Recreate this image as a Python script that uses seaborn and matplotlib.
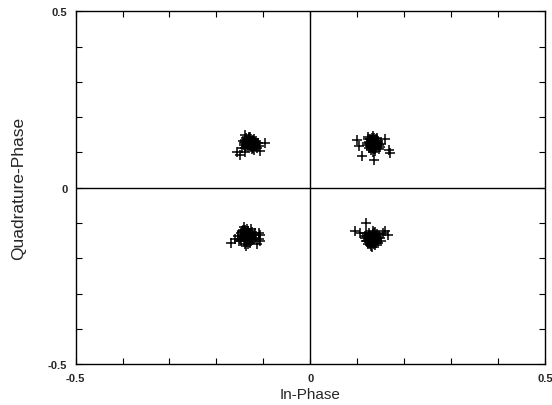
import matplotlib
matplotlib.use("Agg")
import matplotlib.pyplot as plt
import seaborn as sns
import pandas as pd
from matplotlib.ticker import MultipleLocator, FixedLocator

# Upper-left cluster
ul_x = [-0.128, -0.132, -0.124, -0.138, -0.120, -0.130, -0.126, -0.135, -0.118, -0.131,
        -0.122, -0.140, -0.127, -0.115, -0.136, -0.121, -0.133, -0.125, -0.129, -0.117,
        -0.137, -0.123, -0.113, -0.130, -0.142, -0.126, -0.119, -0.134, -0.110, -0.124,
        -0.141, -0.116, -0.128, -0.133, -0.121, -0.139, -0.112, -0.126, -0.144, -0.119,
        -0.140, -0.096, -0.155, -0.150, -0.139, -0.108, -0.145]
ul_y = [0.128, 0.134, 0.122, 0.130, 0.131, 0.120, 0.138, 0.124, 0.125, 0.141,
        0.135, 0.136, 0.116, 0.120, 0.118, 0.113, 0.127, 0.131, 0.124, 0.129,
        0.140, 0.119, 0.114, 0.145, 0.127, 0.126, 0.137, 0.133, 0.118, 0.110,
        0.121, 0.133, 0.143, 0.115, 0.124, 0.112, 0.126, 0.119, 0.133, 0.108,
        0.150, 0.127, 0.100, 0.092, 0.102, 0.105, 0.112]

# Upper-right cluster
ur_x = [0.134, 0.130, 0.138, 0.126, 0.142, 0.132, 0.136, 0.128, 0.145, 0.131,
        0.140, 0.124, 0.137, 0.133, 0.146, 0.129, 0.135, 0.141, 0.127, 0.139,
        0.133, 0.122, 0.144, 0.130, 0.136, 0.125, 0.148, 0.132, 0.138, 0.128,
        0.121, 0.143, 0.135, 0.127, 0.150, 0.131, 0.139, 0.124, 0.147, 0.134,
        0.100, 0.104, 0.160, 0.168, 0.111, 0.136, 0.171]
ur_y = [0.128, 0.134, 0.122, 0.131, 0.126, 0.119, 0.140, 0.124, 0.133, 0.142,
        0.117, 0.137, 0.131, 0.113, 0.121, 0.116, 0.125, 0.138, 0.127, 0.111,
        0.146, 0.120, 0.128, 0.108, 0.134, 0.112, 0.115, 0.129, 0.105, 0.139,
        0.128, 0.141, 0.110, 0.118, 0.125, 0.135, 0.122, 0.143, 0.110, 0.102,
        0.134, 0.119, 0.137, 0.108, 0.091, 0.080, 0.099]

# Lower-left cluster
ll_x = [-0.136, -0.140, -0.131, -0.145, -0.128, -0.138, -0.133, -0.148, -0.125, -0.142,
        -0.130, -0.150, -0.135, -0.127, -0.143, -0.120, -0.139, -0.132, -0.146, -0.124,
        -0.137, -0.153, -0.129, -0.141, -0.134, -0.118, -0.147, -0.126, -0.137, -0.131,
        -0.144, -0.122, -0.135, -0.151, -0.129, -0.140, -0.117, -0.133, -0.146, -0.125,
        -0.110, -0.106, -0.110, -0.106, -0.113, -0.168, -0.160]
ll_y = [-0.136, -0.130, -0.142, -0.138, -0.129, -0.148, -0.122, -0.127, -0.140, -0.152,
        -0.133, -0.144, -0.117, -0.150, -0.120, -0.134, -0.158, -0.127, -0.133, -0.125,
        -0.143, -0.136, -0.155, -0.112, -0.146, -0.128, -0.150, -0.118, -0.165, -0.138,
        -0.124, -0.146, -0.131, -0.152, -0.139, -0.119, -0.141, -0.160, -0.122, -0.134,
        -0.128, -0.135, -0.145, -0.152, -0.160, -0.156, -0.145]

# Lower-right cluster
lr_x = [0.132, 0.128, 0.136, 0.124, 0.140, 0.130, 0.134, 0.120, 0.143, 0.127,
        0.138, 0.118, 0.135, 0.145, 0.125, 0.131, 0.141, 0.122, 0.137, 0.129,
        0.147, 0.116, 0.133, 0.126, 0.139, 0.150, 0.123, 0.134, 0.119, 0.142,
        0.128, 0.144, 0.121, 0.136, 0.148, 0.131, 0.126, 0.139, 0.117, 0.133,
        0.119, 0.096, 0.107, 0.160, 0.165, 0.155]
lr_y = [-0.142, -0.136, -0.148, -0.145, -0.138, -0.153, -0.130, -0.139, -0.149, -0.158,
        -0.125, -0.150, -0.160, -0.142, -0.129, -0.147, -0.156, -0.133, -0.139, -0.165,
        -0.134, -0.143, -0.121, -0.150, -0.163, -0.150, -0.160, -0.135, -0.128, -0.131,
        -0.144, -0.157, -0.152, -0.127, -0.141, -0.168, -0.133, -0.146, -0.137, -0.154,
        -0.099, -0.122, -0.128, -0.122, -0.134, -0.127]

tick_vals = [-0.5, 0, 0.5]
tick_labels = ["-0.5", "0", "0.5"]

df = pd.DataFrame({
    "I": ul_x + ur_x + ll_x + lr_x,
    "Q": ul_y + ur_y + ll_y + lr_y,
})

sns.set_style("white")
plt.rcParams["font.family"] = ["Liberation Sans", "DejaVu Sans"]

fig = plt.figure(figsize=(5.52, 4.06), dpi=100)
ax = fig.add_axes([0.137, 0.100, 0.850, 0.870])

sns.scatterplot(data=df, x="I", y="Q", marker="+", color="black", s=44,
                linewidth=1.1, ax=ax, legend=False)

ax.axhline(0, color="black", lw=1.0, zorder=1)
ax.axvline(0, color="black", lw=1.0, zorder=1)

ax.set_xlim(-0.5, 0.5)
ax.set_ylim(-0.5, 0.5)
ax.xaxis.set_major_locator(FixedLocator(tick_vals))
ax.yaxis.set_major_locator(FixedLocator(tick_vals))
ax.set_xticklabels(tick_labels)
ax.set_yticklabels(tick_labels)
ax.xaxis.set_minor_locator(MultipleLocator(0.1))
ax.yaxis.set_minor_locator(MultipleLocator(0.1))
ax.tick_params(which="both", direction="in", top=True, right=True,
               bottom=True, left=True, color="black", width=0.8)
ax.tick_params(which="major", length=4, labelsize=8, pad=6)
ax.tick_params(which="minor", length=4)
for lab in ax.get_xticklabels() + ax.get_yticklabels():
    lab.set_fontweight("bold")

for sp in ax.spines.values():
    sp.set_color("black")
    sp.set_linewidth(1.0)

ax.set_xlabel("In-Phase", fontsize=11, labelpad=3)
ax.set_ylabel("Quadrature-Phase", fontsize=12.5, labelpad=16)

fig.savefig("out.png", dpi=100)
